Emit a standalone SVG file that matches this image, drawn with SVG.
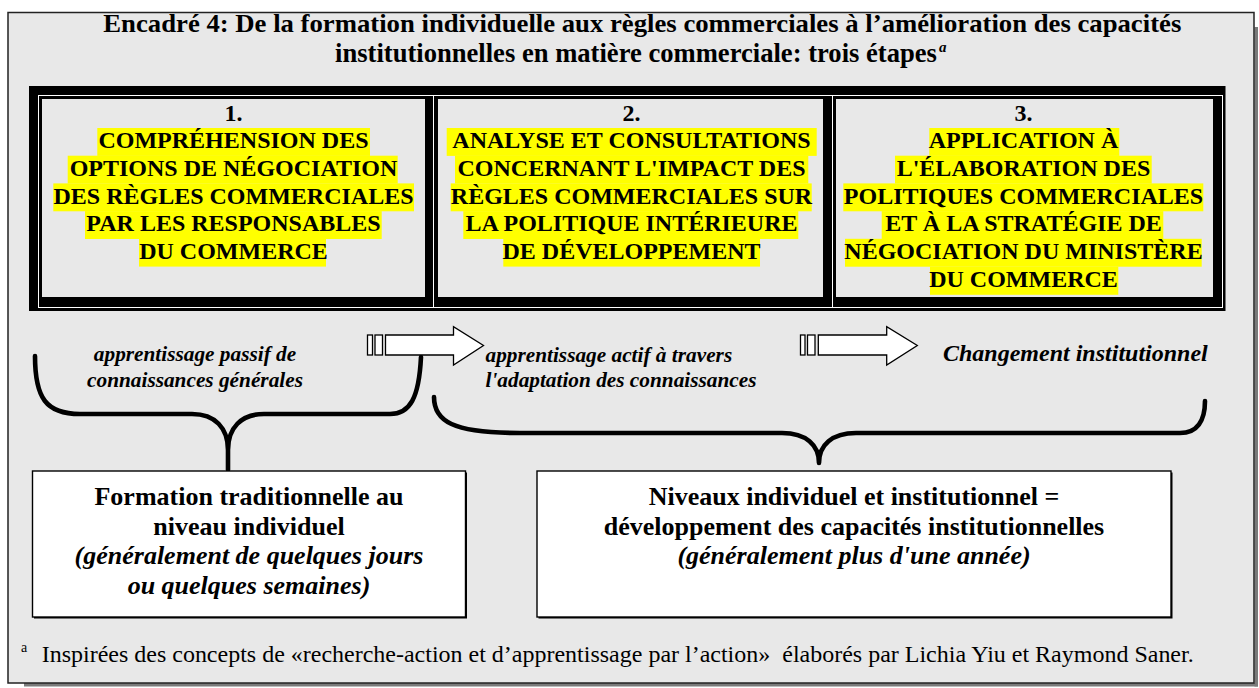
<svg xmlns="http://www.w3.org/2000/svg" width="1259" height="688" viewBox="0 0 1259 688">
<style>
  text { font-family: "Liberation Serif", "Times New Roman", serif; fill: #000; }
  .title { font-size: 26px; font-weight: bold; }
  .cell { font-size: 24px; font-weight: bold; text-anchor: middle; }
  .hl { fill: #ffff00; }
  .gray { fill: #e8e8e8; }
  .wline { fill: none; stroke: #ffffff; stroke-width: 1; }
  .lbl { font-size: 21.3px; font-weight: bold; font-style: italic; }
  .boxt { font-size: 26px; font-weight: bold; text-anchor: middle; }
  .boxi { font-size: 26px; font-weight: bold; font-style: italic; text-anchor: middle; }
  .box { fill: #ffffff; stroke: #000; stroke-width: 1.4; }
  .brace { fill: none; stroke: #000; stroke-width: 4.6; stroke-linecap: round; stroke-linejoin: round; }
  .arrow { fill: #ffffff; stroke: #000; stroke-width: 1.3; stroke-linejoin: miter; }
  .foot { font-size: 22.5px; }
  .shadow { fill: #7a7a7a; }
</style>

<!-- outer frame with shadow -->
<g id="frame">
  <rect x="0" y="0" width="1259" height="688" fill="#ffffff"/>
  <rect class="shadow" x="24" y="683" width="1234" height="3.5"/>
  <rect class="shadow" x="1254.5" y="27" width="3.5" height="659.5"/>
  <rect x="8" y="12.5" width="1246" height="670.5" fill="#e8e8e8" stroke="#222" stroke-width="1.5"/>
</g>

<!-- title -->
<g id="title">
  <text class="title" x="103.3" y="32.3" textLength="1078" lengthAdjust="spacingAndGlyphs">Encadré 4: De la formation individuelle aux règles commerciales à l’amélioration des capacités</text>
  <text class="title" x="335" y="61.7" style="font-size:26.6px">institutionnelles en matière commerciale: trois étapes<tspan dx="2" dy="-10" style="font-size:15px;font-style:italic">a</tspan></text>
</g>

<!-- table frame -->
<g id="table">
  <rect x="29" y="86" width="1196.5" height="225" fill="#000"/>
</g>

<!-- step 1 -->
<g id="step1">
  <rect class="wline" x="38.5" y="95.5" width="395" height="212"/>
  <rect class="gray" x="42" y="99" width="383" height="198"/>
  <rect class="hl" x="97.3" y="128" width="272.7" height="27.9"/>
  <rect class="hl" x="67.7" y="155.7" width="330" height="27.9"/>
  <rect class="hl" x="53.3" y="183.4" width="360.7" height="27.9"/>
  <rect class="hl" x="85" y="211.1" width="296.7" height="27.9"/>
  <rect class="hl" x="139" y="238.8" width="187" height="27.8"/>
  <text class="cell" x="233.5" y="121">1.</text>
  <text class="cell" x="233.5" y="148.3">COMPRÉHENSION DES</text>
  <text class="cell" x="233.5" y="176">OPTIONS DE NÉGOCIATION</text>
  <text class="cell" x="233.5" y="203.7">DES RÈGLES COMMERCIALES</text>
  <text class="cell" x="233.5" y="231.4">PAR LES RESPONSABLES</text>
  <text class="cell" x="233.5" y="259.1">DU COMMERCE</text>
</g>

<!-- step 2 -->
<g id="step2">
  <rect class="wline" x="433.5" y="95.5" width="399" height="212"/>
  <rect class="gray" x="438" y="99" width="385" height="198"/>
  <rect class="hl" x="446.7" y="128" width="370" height="27.9"/>
  <rect class="hl" x="455" y="155.7" width="353.3" height="27.9"/>
  <rect class="hl" x="450.7" y="183.4" width="361" height="27.9"/>
  <rect class="hl" x="463.3" y="211.1" width="335" height="27.9"/>
  <rect class="hl" x="503.3" y="238.8" width="256.7" height="27.8"/>
  <text class="cell" x="631.5" y="121">2.</text>
  <text class="cell" x="631.5" y="148.3">ANALYSE ET CONSULTATIONS</text>
  <text class="cell" x="631.5" y="176">CONCERNANT L'IMPACT DES</text>
  <text class="cell" x="631.5" y="203.7">RÈGLES COMMERCIALES SUR</text>
  <text class="cell" x="631.5" y="231.4">LA POLITIQUE INTÉRIEURE</text>
  <text class="cell" x="631.5" y="259.1">DE DÉVELOPPEMENT</text>
</g>

<!-- step 3 -->
<g id="step3">
  <rect class="wline" x="832.5" y="95.5" width="390" height="212"/>
  <rect class="gray" x="836" y="99" width="377" height="198"/>
  <rect class="hl" x="929.3" y="128" width="190" height="27.9"/>
  <rect class="hl" x="895" y="155.7" width="256.7" height="27.9"/>
  <rect class="hl" x="843.3" y="183.4" width="360" height="27.9"/>
  <rect class="hl" x="881.7" y="211.1" width="281.6" height="27.9"/>
  <rect class="hl" x="845" y="238.8" width="356.7" height="27.9"/>
  <rect class="hl" x="930" y="266.5" width="188.3" height="28.3"/>
  <text class="cell" x="1023.5" y="121">3.</text>
  <text class="cell" x="1023.5" y="148.3">APPLICATION À</text>
  <text class="cell" x="1023.5" y="176">L'ÉLABORATION DES</text>
  <text class="cell" x="1023.5" y="203.7">POLITIQUES COMMERCIALES</text>
  <text class="cell" x="1023.5" y="231.4">ET À LA STRATÉGIE DE</text>
  <text class="cell" x="1023.5" y="259.1">NÉGOCIATION DU MINISTÈRE</text>
  <text class="cell" x="1023.5" y="286.8">DU COMMERCE</text>
</g>

<!-- connectors: braces and block arrows -->
<g id="connectors">
  <path class="brace" d="M35,356 C35,398 46,414 80,414 L192,414 C215,414 228,428 228,450 L228,470 M228,450 C228,428 241,414 264,414 L390,414 C410,414 419,398 421,357"/>
  <path class="brace" d="M434,397 C434,421 452,433 520,433 L782,433 C806,433 819,445 819,463 C819,445 832,433 856,433 L1180,433 C1197,433 1205,421 1205,401"/>
  <g id="arrow1">
    <rect class="arrow" x="367.5" y="335" width="5" height="20"/>
    <rect class="arrow" x="375" y="335" width="7.5" height="20"/>
    <path class="arrow" d="M385.5,335 H453.5 V326.7 L483.5,345.5 L453.5,365 V355 H385.5 Z"/>
  </g>
  <g id="arrow2">
    <rect class="arrow" x="800.5" y="335" width="4.5" height="20"/>
    <rect class="arrow" x="807.5" y="335" width="7.5" height="20"/>
    <path class="arrow" d="M818.3,335 H886.7 V326.7 L917.3,345.5 L886.7,365 V355 H818.3 Z"/>
  </g>
</g>

<!-- labels -->
<g id="label-passif">
  <text class="lbl" x="195" y="361" text-anchor="middle">apprentissage passif de</text>
  <text class="lbl" x="195" y="387" text-anchor="middle">connaissances générales</text>
</g>
<g id="label-actif">
  <text class="lbl" x="485.5" y="362">apprentissage actif à travers</text>
  <text class="lbl" x="485.5" y="387">l'adaptation des connaissances</text>
</g>
<g id="label-changement">
  <text class="lbl" x="943" y="361" style="font-size:24px">Changement institutionnel</text>
</g>

<!-- bottom boxes -->
<g id="box-formation">
  <rect x="34" y="472.5" width="433" height="146" fill="#000"/>
  <rect class="box" x="32.5" y="471" width="433" height="146"/>
  <text class="boxt" x="249" y="505">Formation traditionnelle au</text>
  <text class="boxt" x="249" y="534.5">niveau individuel</text>
  <text class="boxi" x="249" y="564">(généralement de quelques jours</text>
  <text class="boxi" x="249" y="593.5">ou quelques semaines)</text>
</g>
<g id="box-niveaux">
  <rect x="538.5" y="472.5" width="634" height="146" fill="#000"/>
  <rect class="box" x="537" y="471" width="634" height="146"/>
  <text class="boxt" x="854" y="505">Niveaux individuel et institutionnel =</text>
  <text class="boxt" x="854" y="534.5">développement des capacités institutionnelles</text>
  <text class="boxi" x="854" y="564">(généralement plus d'une année)</text>
</g>

<!-- footnote -->
<g id="footnote">
  <text x="21" y="652" style="font-size:14px">a</text>
  <text class="foot" x="41.7" y="661.5" textLength="1152" lengthAdjust="spacingAndGlyphs" xml:space="preserve">Inspirées des concepts de «recherche-action et d’apprentissage par l’action»  élaborés par Lichia Yiu et Raymond Saner.</text>
</g>
</svg>
